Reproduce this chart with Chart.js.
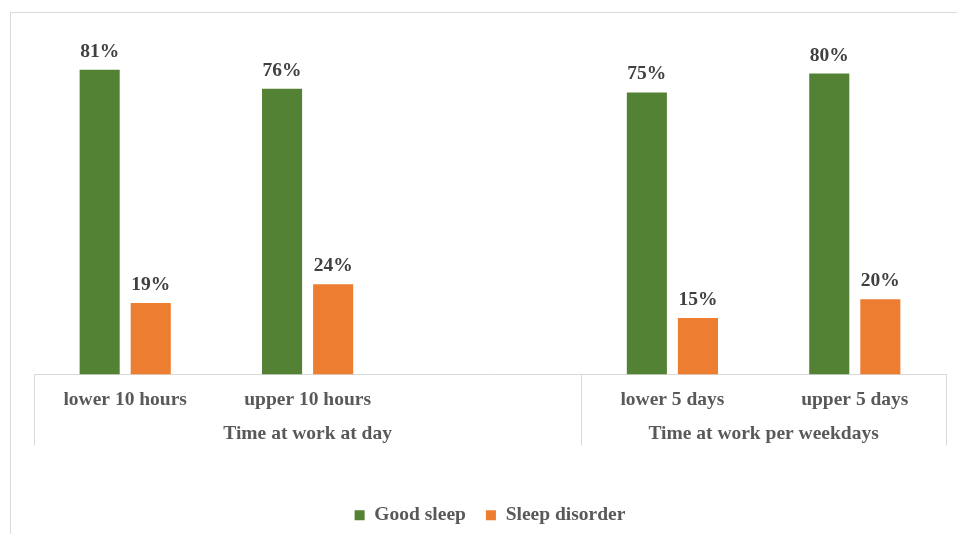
<!DOCTYPE html>
<html lang="en">
<head>
    <meta charset="UTF-8">
    <title>Sleep quality by time at work</title>
    <script src="https://cdn.jsdelivr.net/npm/chart.js"></script>
    <style>
        body {
            margin: 0;
            padding: 0;
            background-color: white;
        }
        .chart-container {
            width: 957px;
            height: 534px;
            position: relative;
        }
    </style>
</head>
<body>
    <div class="chart-container">
        <canvas id="sleepChart"></canvas>
    </div>

    <script>
        // categories (the blank one keeps the gap between the two groups)
        const categories = ['lower 10 hours', 'upper 10 hours', '', 'lower 5 days', 'upper 5 days'];
        const groupLabels = ['Time at work at day', 'Time at work per weekdays'];
        const groupSpans = [3, 2];

        const goodSleep = [81, 76, null, 75, 80];
        const sleepDisorder = [19, 24, null, 15, 20];

        const FONT = "'Liberation Serif', 'Times New Roman', Times, serif";
        const FONT_SIZE = 19.5;
        const AXIS_COLOR = '#d9d9d9';

        // value labels above the bars
        const valueLabels = {
            id: 'valueLabels',
            afterDatasetsDraw(chart) {
                const ctx = chart.ctx;
                ctx.save();
                ctx.font = 'bold ' + FONT_SIZE + 'px ' + FONT;
                ctx.fillStyle = '#404040';
                ctx.textAlign = 'center';
                ctx.textBaseline = 'alphabetic';
                chart.data.datasets.forEach((ds, i) => {
                    chart.getDatasetMeta(i).data.forEach((bar, j) => {
                        if (ds.data[j] == null) return;
                        ctx.fillText(ds.data[j] + '%', bar.x, bar.y - 13);
                    });
                });
                ctx.restore();
            }
        };

        // outer frame + second level of the category axis
        const groupAxis = {
            id: 'groupAxis',
            beforeDraw(chart) {
                const ctx = chart.ctx;
                ctx.save();
                ctx.strokeStyle = AXIS_COLOR;
                ctx.lineWidth = 1;
                ctx.strokeRect(10.5, 12.5, chart.width, chart.height);
                ctx.restore();
            },
            afterDraw(chart) {
                const ctx = chart.ctx;
                const x = chart.scales.x;
                const top = chart.chartArea.bottom;
                const bottom = top + 71;
                const step = (x.right - x.left) / categories.length;
                ctx.save();
                ctx.strokeStyle = AXIS_COLOR;
                ctx.lineWidth = 1;
                ctx.font = 'bold ' + FONT_SIZE + 'px ' + FONT;
                ctx.fillStyle = '#595959';
                ctx.textAlign = 'center';
                ctx.textBaseline = 'middle';
                let start = 0;
                const edges = [x.left];
                groupSpans.forEach((span, g) => {
                    const x0 = x.left + start * step;
                    const x1 = x.left + (start + span) * step;
                    ctx.fillText(groupLabels[g], (x0 + x1) / 2, top + 59);
                    edges.push(x1);
                    start += span;
                });
                edges.forEach(e => {
                    const px = Math.round(e) + 0.5;
                    ctx.beginPath();
                    ctx.moveTo(px, top);
                    ctx.lineTo(px, bottom);
                    ctx.stroke();
                });
                ctx.restore();
            }
        };

        const ctx = document.getElementById('sleepChart').getContext('2d');
        new Chart(ctx, {
            type: 'bar',
            data: {
                labels: categories,
                datasets: [
                    {
                        label: 'Good sleep',
                        data: goodSleep,
                        backgroundColor: '#548235',
                        barPercentage: 0.785,
                        categoryPercentage: 0.56
                    },
                    {
                        label: 'Sleep disorder',
                        data: sleepDisorder,
                        backgroundColor: '#ed7d31',
                        barPercentage: 0.785,
                        categoryPercentage: 0.56
                    }
                ]
            },
            options: {
                responsive: true,
                maintainAspectRatio: false,
                animation: false,
                layout: {
                    padding: { top: 36, left: 34, right: 11, bottom: -1 }
                },
                scales: {
                    x: {
                        grid: { display: false, drawTicks: false },
                        border: { display: true, color: AXIS_COLOR, width: 1 },
                        ticks: {
                            font: { family: FONT, size: FONT_SIZE, weight: 'bold' },
                            color: '#595959',
                            padding: 14,
                            maxRotation: 0,
                            autoSkip: false
                        },
                        afterFit(scale) {
                            scale.height = 111;
                        }
                    },
                    y: {
                        display: false,
                        min: 0,
                        max: 90
                    }
                },
                plugins: {
                    legend: {
                        position: 'bottom',
                        labels: {
                            font: { family: FONT, size: FONT_SIZE, weight: 'bold' },
                            color: '#595959',
                            boxWidth: 10,
                            boxHeight: 10,
                            padding: 20
                        }
                    },
                    tooltip: { enabled: false }
                }
            },
            plugins: [valueLabels, groupAxis]
        });
    </script>
</body>
</html>
